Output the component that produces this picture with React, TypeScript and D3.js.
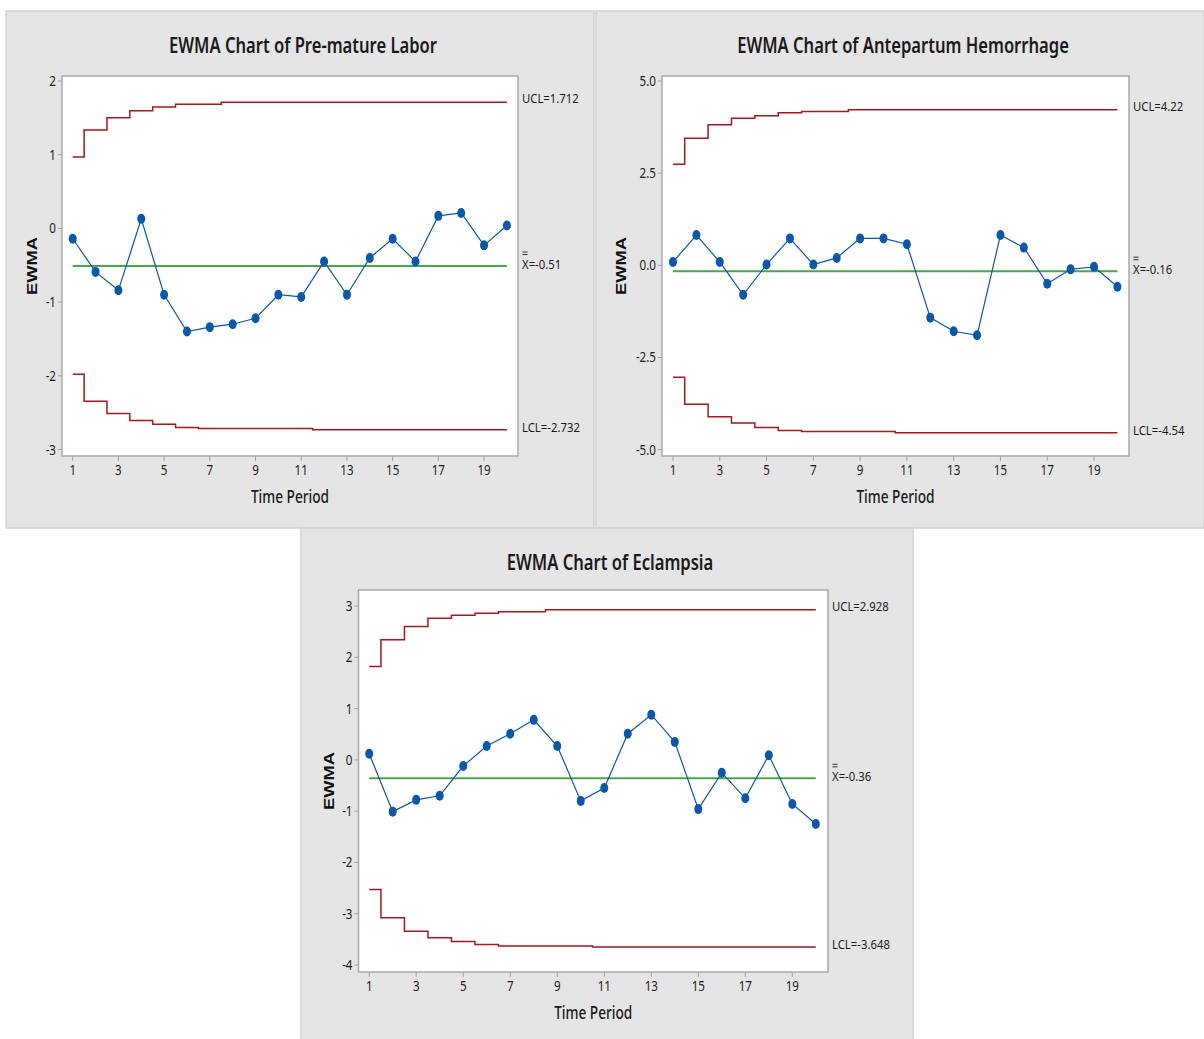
import * as d3 from "d3";

// time periods on the x axis
const periods = [1, 2, 3, 4, 5, 6, 7, 8, 9, 10, 11, 12, 13, 14, 15, 16, 17, 18, 19, 20];
const periodTicks = [1, 3, 5, 7, 9, 11, 13, 15, 17, 19];

// Pre-mature Labor
const laborEwma = [-0.14, -0.59, -0.84, 0.13, -0.9, -1.4, -1.34, -1.3, -1.22, -0.9, -0.93, -0.45, -0.9, -0.4, -0.14, -0.45, 0.17, 0.21, -0.23, 0.04];
const laborUcl = [0.97, 1.335, 1.5, 1.596, 1.647, 1.685, 1.685, 1.712, 1.712, 1.712, 1.712, 1.712, 1.712, 1.712, 1.712, 1.712, 1.712, 1.712, 1.712, 1.712];
const laborLcl = [-1.98, -2.345, -2.51, -2.605, -2.656, -2.7, -2.716, -2.716, -2.716, -2.716, -2.716, -2.732, -2.732, -2.732, -2.732, -2.732, -2.732, -2.732, -2.732, -2.732];
const laborCenter = -0.51;
const laborYTicks = [-3, -2, -1, 0, 1, 2];
const laborYLabels = ["-3", "-2", "-1", "0", "1", "2"];

// Antepartum Hemorrhage
const hemEwma = [0.09, 0.82, 0.09, -0.8, 0.02, 0.73, 0.02, 0.2, 0.73, 0.73, 0.57, -1.42, -1.79, -1.9, 0.82, 0.48, -0.5, -0.11, -0.04, -0.58];
const hemUcl = [2.74, 3.45, 3.81, 3.99, 4.06, 4.14, 4.17, 4.17, 4.22, 4.22, 4.22, 4.22, 4.22, 4.22, 4.22, 4.22, 4.22, 4.22, 4.22, 4.22];
const hemLcl = [-3.04, -3.77, -4.11, -4.28, -4.4, -4.48, -4.51, -4.51, -4.51, -4.51, -4.54, -4.54, -4.54, -4.54, -4.54, -4.54, -4.54, -4.54, -4.54, -4.54];
const hemCenter = -0.16;
const hemYTicks = [-5, -2.5, 0, 2.5, 5];
const hemYLabels = ["-5.0", "-2.5", "0.0", "2.5", "5.0"];

// Eclampsia
const eclEwma = [0.12, -1.01, -0.78, -0.7, -0.12, 0.27, 0.51, 0.78, 0.27, -0.8, -0.55, 0.51, 0.88, 0.35, -0.96, -0.25, -0.75, 0.09, -0.86, -1.25];
const eclUcl = [1.82, 2.34, 2.6, 2.76, 2.82, 2.86, 2.89, 2.89, 2.928, 2.928, 2.928, 2.928, 2.928, 2.928, 2.928, 2.928, 2.928, 2.928, 2.928, 2.928];
const eclLcl = [-2.53, -3.08, -3.34, -3.47, -3.54, -3.6, -3.63, -3.63, -3.63, -3.63, -3.648, -3.648, -3.648, -3.648, -3.648, -3.648, -3.648, -3.648, -3.648, -3.648];
const eclCenter = -0.36;
const eclYTicks = [-4, -3, -2, -1, 0, 1, 2, 3];
const eclYLabels = ["-4", "-3", "-2", "-1", "0", "1", "2", "3"];

const SANS = "'Noto Sans', 'Open Sans', sans-serif";

const RED = "#a3191c";
const GREEN = "#4aa54f";
const BLUE = "#0b57a8";
const INK = "#1a1a1a";

// condensed text: squeeze glyphs horizontally like the original's narrow font
const NText = ({ x, y, size, sx = 0.8, anchor = "start", weight = 400, children }: any) => (
  <text transform={`translate(${x},${y}) scale(${sx},1)`} textAnchor={anchor} fontFamily={SANS}
    fontSize={size} fontWeight={weight} fill={INK}>{children}</text>
);

type PanelProps = {
  title: string;
  bg: number[];
  box: number[];
  ewmaX: number;
  xRange: number[];
  yDomain: number[];
  yRange: number[];
  yTicks: number[];
  yLabels: string[];
  ewma: number[];
  ucl: number[];
  lcl: number[];
  center: number;
  uclText: string;
  lclText: string;
  centerText: string;
};

const EwmaPanel = (p: PanelProps) => {
  const x = d3.scaleLinear().domain([1, 20]).range(p.xRange);
  const y = d3.scaleLinear().domain(p.yDomain).range(p.yRange);
  const [bx0, by0, bx1, by1] = p.box;
  const [gx, gy, gw, gh] = p.bg;

  const stepLine = d3
    .line<number>()
    .x((d, i) => x(periods[i]))
    .y((d) => y(d))
    .curve(d3.curveStep);
  const ewmaLine = d3
    .line<number>()
    .x((d, i) => x(periods[i]))
    .y((d) => y(d));

  const titleX = gx + gw / 2 + 3;
  const midX = (bx0 + bx1) / 2;
  const midY = (by0 + by1) / 2;
  const labelX = bx1 + 4;
  const cy = y(p.center);

  return (
    <g>
      <rect x={gx} y={gy} width={gw} height={gh} fill="#e5e5e5" stroke="#d2d2d2" strokeWidth={1.5} />
      <NText x={titleX} y={gy + 42} size={21} sx={0.79} anchor="middle" weight={600}>{p.title}</NText>
      <rect x={bx0} y={by0} width={bx1 - bx0} height={by1 - by0} fill="#fff" stroke="#a9a9a9" strokeWidth={1.5} />

      {p.yTicks.map((t, i) => (
        <g key={"y" + t}>
          <line x1={bx0 - 4} x2={bx0} y1={y(t)} y2={y(t)} stroke="#a0a0a0" strokeWidth={1} />
          <NText x={bx0 - 6} y={y(t) + 5} size={14.5} anchor="end">{p.yLabels[i]}</NText>
        </g>
      ))}
      {periodTicks.map((t) => (
        <g key={"x" + t}>
          <line x1={x(t)} x2={x(t)} y1={by1} y2={by1 + 5} stroke="#a0a0a0" strokeWidth={1} />
          <NText x={x(t)} y={by1 + 19} size={14.5} anchor="middle">{t}</NText>
        </g>
      ))}

      <NText x={midX} y={by1 + 47} size={18} sx={0.76} anchor="middle" weight={500}>Time Period</NText>
      <text transform={`translate(${p.ewmaX},${midY}) rotate(-90)`} textAnchor="middle" fontFamily="'Liberation Sans', Arial, sans-serif"
        fontWeight="bold" fontSize={14} fill="#111" textLength={58} lengthAdjust="spacingAndGlyphs">EWMA</text>

      <path d={stepLine(p.ucl) || ""} fill="none" stroke={RED} strokeWidth={1.5} />
      <path d={stepLine(p.lcl) || ""} fill="none" stroke={RED} strokeWidth={1.5} />
      <line x1={x(1)} x2={x(20)} y1={cy} y2={cy} stroke={GREEN} strokeWidth={2} />
      <path d={ewmaLine(p.ewma) || ""} fill="none" stroke={BLUE} strokeWidth={1.2} />
      {p.ewma.map((v, i) => (
        <ellipse key={i} cx={x(periods[i])} cy={y(v)} rx={4} ry={5} fill={BLUE} />
      ))}

      <NText x={labelX} y={y(p.ucl[19]) + 1} size={13.5} sx={0.84}>{p.uclText}</NText>
      <NText x={labelX} y={y(p.lcl[19]) + 2} size={13.5} sx={0.84}>{p.lclText}</NText>
      <NText x={labelX} y={cy + 3} size={13.5} sx={0.84}>{p.centerText}</NText>
      {/* double bar over the X */}
      <line x1={labelX + 0.5} x2={labelX + 5.5} y1={cy - 14} y2={cy - 14} stroke={INK} strokeWidth={0.9} />
      <line x1={labelX + 0.5} x2={labelX + 5.5} y1={cy - 11.5} y2={cy - 11.5} stroke={INK} strokeWidth={0.9} />
    </g>
  );
};

const App = () => {
  return (
    <svg width={1204} height={1039} style={{ position: "absolute", left: 0, top: 0, background: "#fff" }}>
      <EwmaPanel title="EWMA Chart of Pre-mature Labor" bg={[6, 11, 588, 517]} box={[62, 76, 518, 456]} ewmaX={37}
        xRange={[72.7, 506.9]} yDomain={[-3, 2]} yRange={[449.5, 81]} yTicks={laborYTicks} yLabels={laborYLabels}
        ewma={laborEwma} ucl={laborUcl} lcl={laborLcl} center={laborCenter}
        uclText="UCL=1.712" lclText="LCL=-2.732" centerText="X=-0.51" />
      <EwmaPanel title="EWMA Chart of Antepartum Hemorrhage" bg={[596, 11, 608, 517]} box={[662, 76, 1129, 456]} ewmaX={626}
        xRange={[673, 1117.4]} yDomain={[-5, 5]} yRange={[449.6, 81]} yTicks={hemYTicks} yLabels={hemYLabels}
        ewma={hemEwma} ucl={hemUcl} lcl={hemLcl} center={hemCenter}
        uclText="UCL=4.22" lclText="LCL=-4.54" centerText="X=-0.16" />
      <EwmaPanel title="EWMA Chart of Eclampsia" bg={[301, 528, 612, 513]} box={[358.5, 590, 828, 972]} ewmaX={334}
        xRange={[369.2, 815.8]} yDomain={[-4, 3]} yRange={[965, 606]} yTicks={eclYTicks} yLabels={eclYLabels}
        ewma={eclEwma} ucl={eclUcl} lcl={eclLcl} center={eclCenter}
        uclText="UCL=2.928" lclText="LCL=-3.648" centerText="X=-0.36" />
    </svg>
  );
};

export default App;
